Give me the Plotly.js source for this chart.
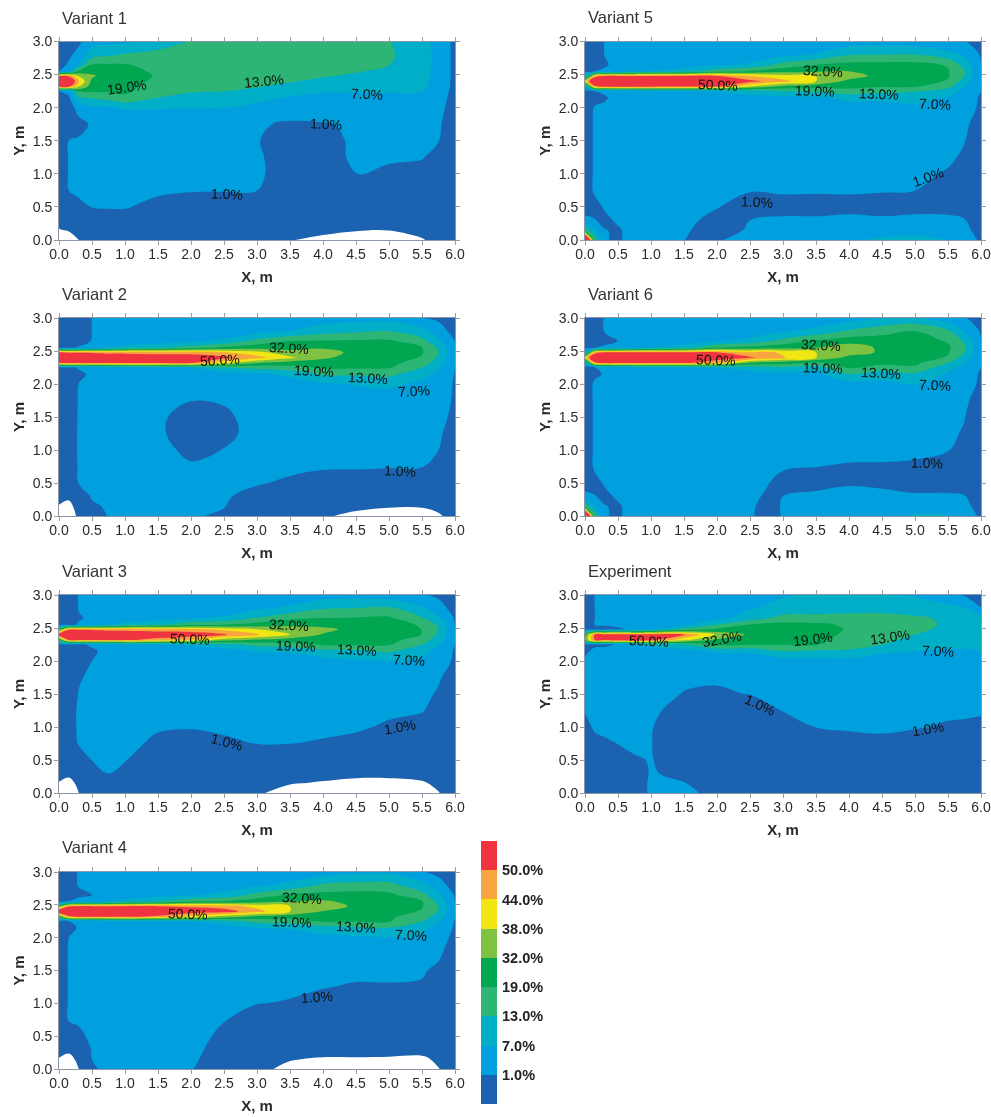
<!DOCTYPE html>
<html>
<head>
<meta charset="utf-8">
<script src="https://cdn.plot.ly/plotly-3.0.1.min.js"></script>
<style>html,body{margin:0;padding:0;background:#fff}#plot{width:991px;height:1117px;filter:blur(.45px)}</style>
</head>
<body>
<div id="plot"></div>
<script>
// Station positions (m). Each panel lists one column of values per x station, bottom to top along yNodes.
const xNodes = [0,.15,.3,.5,.75,1,1.5,2,2.5,3,3.5,4,4.5,5,5.5,5.75,6];
const xNodesV6 = [0,.15,.3,.5,.75,1,1.5,2,2.5,2.75,3,3.5,4,4.5,5,5.5,5.75,6];
const yNodes = [0,.15,.3,.5,.75,1,1.25,1.5,1.75,2,2.15,2.25,2.32,2.4,2.48,2.55,2.65,2.8,3];

const variant1 = [
[-.5,-.03,.2,.4,.6,.8,.8,.8,.7,.7,.8,.95,52,62,49,.95,.6,.4,.3],
[-.3,.05,.3,.7,1.05,1.1,1.1,1.05,.7,.7,.9,2.5,52,60,49,7,2,.8,.4],
[0,.3,.6,.9,1.5,1.7,1.6,1.4,.8,2.5,12,21,38,44,37,22,8,3,.8],
[.3,.5,.8,1.05,1.8,2,2,1.9,1.5,6,13.5,21,26,29,33,27,19.5,10,5],
[.4,.6,.8,1.2,2,2.2,2.2,2,2,6.5,15,21,24,25,25,24,20,12,5.5],
[.4,.6,.8,1.2,2,2.2,2.2,2,2,7.5,18,21,22,23,24,23,20,13.5,6],
[.4,.5,.7,.85,1.5,2,2,2,2,7.5,13,16,17,18,18.5,18,17,16,8],
[.4,.5,.6,.8,1.15,2,2,2,2,7,11,13.5,15,16,16,16,16,16,13.5],
[.3,.4,.6,.8,1.1,2,2,2,2.2,7,10,13,14,15,15,15,15,15,14],
[.15,.25,.5,.7,1.03,1.6,1.5,1.2,1.5,5.5,8.5,11,13.5,15,15,15,15,15,14.5],
[.02,.15,.3,.5,.7,.7,.7,.7,.9,3.5,6.5,9,11,13.5,15,15,15,15,14.5],
[-.1,.1,.3,.5,.6,.7,.8,.8,.95,3.5,5.5,7.5,9.5,11.5,13.5,15,15,15,14.5],
[-.4,.05,.3,.5,.8,1.05,1.5,1.6,1.6,3.5,5.5,7.5,9,10.5,12,13.5,15,15,14.5],
[-.5,.02,.3,.5,.7,.95,1.2,1.6,2,4,5.5,7.5,8.5,9.5,10.5,11.5,13.2,14,13.2],
[-.05,.2,.3,.5,.7,.9,1.1,1.8,2.2,4,6,7.2,7.8,8,8,8,8.5,8.5,8],
[.2,.3,.4,.5,.6,.7,.9,1.05,1.4,2.2,3,4,5,5.5,6,6,6,6,6],
[.3,.3,.4,.4,.5,.6,.7,.7,.7,.7,.7,.7,.7,.7,.7,.7,.7,.7,.7]
];
const variant2 = [
[-.5,-.03,.2,.4,.4,.4,.4,.4,.4,.5,.6,.8,51,62,50,.8,.5,.4,.3],
[-.5,-.2,.15,.4,.5,.5,.5,.5,.6,.7,.8,.9,51,62,49,.9,.6,.4,.3],
[.2,.3,.5,1.2,1.5,1.6,1.6,1.5,1.3,1.05,.9,1.3,51,60,49,1.5,.7,.5,.4],
[.5,.9,1.4,1.6,1.8,2,2,2,1.8,1.6,1.5,2,51,58,49,3,1.2,1.1,1.1],
[1.3,1.5,1.7,2,2,2,2,2,2,2,2.5,4,51,56,48,7,2,1.5,1.3],
[1.5,1.6,1.8,2,2,2,2,1.8,2,2,2.5,5,51,56,48,9,3,2,1.5],
[1.5,1.6,1.8,1.8,1.6,1.8,2,1.8,1.8,2,2.5,6,51,55,47,12,4,2,1.5],
[1.4,1.4,1.5,1.5,1.3,.9,.5,.7,1.1,2,3,7,50.5,55,47,16,6,2.5,2],
[.9,1.2,1.4,1.5,1.3,1.1,.75,.9,1.3,2,3.5,13,40,52,44,22,8,3,2],
[.3,.5,.8,1.3,1.8,2,3,2.2,2.5,3.5,6,15,32,46,40,27,15,5,3],
[.2,.3,.5,.9,1.8,2,2.2,2.5,3,5,8,17,26,39,34,28,19,7,3.5],
[.1,.2,.4,.7,1.5,2,2.2,2.6,3.2,6,14,21,26,33,35,30,20,10.5,4],
[-.2,.2,.4,.7,1.4,2,2.3,2.7,3.5,7.5,14,21,24,27,28,26,21,12,4.5],
[-.5,.1,.3,.6,1.3,1.9,2.2,2.7,4,8,15,20,23,26,26,24,21,13,5],
[-.5,.1,.3,.7,1.1,1.6,2,2.6,3.5,6,8.5,13,16,18.5,20,19.5,15,9,1.2],
[-.1,.2,.4,.6,.8,1,1.6,2.5,3,4.5,6,7.5,10,12,13,12,8,4,.8],
[.3,.3,.4,.4,.5,.6,.7,.8,.9,.9,.95,1.1,1.2,1.3,1.3,1.2,1.1,.6,.4]
];
const variant3 = [
[-.5,-.03,.2,.4,.4,.4,.5,.5,.5,.5,.5,.8,20,55,20,.8,.5,.4,.3],
[-.5,-.2,.15,.4,.6,.8,.8,.7,.6,.6,.6,.9,50,60,49,.9,.6,.5,.4],
[0,.15,.3,.5,1.4,1.4,1.4,1.15,.95,.7,.7,.95,51,60,49,1.3,.95,1.2,1.4],
[.2,.4,.7,1.1,1.8,2,2,2,1.6,1,.95,1.3,51,58,49,3,1.6,1.6,1.6],
[.3,.6,1.05,1.7,2,2,2,2,2,1.5,1.6,3,51,56,48,6,2,1.8,1.6],
[.3,.5,.7,1.2,1.8,2,2,2,2,2,2.5,5,51,55,48,9,3,2,1.6],
[.3,.4,.5,.6,.9,1.3,2,2,2,2.2,3,6,48,54,47,12,4,2,1.6],
[.2,.4,.5,.6,.8,1.2,2,2,2,2.5,3.5,7.5,44,54,46,17,6,2.5,1.8],
[.1,.3,.5,.6,.95,1.3,1.8,2,2.2,3,4.5,11,34,51,42,19,8,3,2],
[.1,.25,.4,.7,1.05,1.5,1.8,2,2.4,3.5,7.5,15,30,45,38,24,13.5,6,3],
[-.3,.05,.3,.6,1.03,1.5,1.8,2,2.5,4,7.5,17,26,38,36,28,18,8,3.5],
[-.5,-.05,.2,.5,.97,1.4,1.8,2.1,2.6,5,11,21,26,31,34,27,19,12.5,4],
[-.5,-.1,.1,.4,.9,1.3,1.7,2.2,3,6,12,21,24,27,27,25,20,13,5],
[-.5,-.1,.1,.3,.6,.95,1.4,2,3,7,14,20,23,26,25,23,21,14,3.5],
[-.5,-.05,.15,.3,.5,.8,1.2,1.7,2.6,6,9,13,16,18.9,18.9,18.5,13.5,8,1.5],
[-.02,.1,.2,.3,.5,.6,.8,.95,1.3,3,5,7.5,10,12,13,12,8,4,.8],
[.3,.3,.3,.3,.4,.5,.6,.7,.8,.9,.9,1,1,1.05,1.05,.95,.9,.5,.3]
];
const variant4 = [
[-.5,-.03,.2,.4,.6,.6,.6,.6,.6,.5,.6,.8,22,60,28,.9,.6,.4,.3],
[-.5,-.2,.15,.5,1.3,1.3,1.3,1.3,1.3,1,.9,1,48,62,49,1.05,.95,.8,.7],
[0,.15,.6,.9,1.4,1.5,1.5,1.4,1.4,1.4,1.2,1.1,51,60,50,2,.9,1.2,1.3],
[.95,1.05,1.2,1.6,2,2,2,2,2,2,2,2,51,58,50,3,1,1.6,1.6],
[1.5,1.7,2,2,2,2,2,2,2,2,2.5,4,51,57,50,6,2,1.8,1.6],
[1.6,1.8,2,2,2,2,2,2,2,2,2.5,5,51,56,50,9,3,2,1.6],
[1.6,1.8,2,2,2,2,2,2,2,2.2,3,6,49,55,50,13,4.5,2.2,1.8],
[1.2,1.6,1.8,2,2,2,2,2,2,2.5,3.5,7,42,54,49,18,6.5,2.6,2],
[.6,.7,.8,.9,1.1,1.6,2,2,2.2,3,4.5,10,35,53,47,20,9,3,2.2],
[.2,.3,.4,.6,.85,1.05,1.6,2,2.4,3.5,7,15,28,46,42,27,15,6,3],
[-.2,.05,.3,.5,.7,.98,1.3,2,2.5,4,7.5,16,24,38,38,32,21,8.5,3.5],
[-.5,-.1,.4,.4,.6,.8,1.15,1.8,2.8,5,10.5,21,26,31,36,33,23,14,4],
[-.5,-.1,.4,.5,.5,.7,.95,1.7,2.8,6,12,20,23,27,29,28,24,15,5.5],
[-.5,-.1,.3,.5,.5,.7,.97,1.5,2.6,6.5,13,20,21,25,27,25,22,15,6],
[-.5,-.1,.2,.3,.5,.7,.95,1.3,2.2,6,9,13,16,18.5,20,20,15,9,1.5],
[-.02,.1,.2,.3,.4,.5,.7,.9,1.5,3,4.5,7,10,12.5,13,11,8,4,.7],
[.3,.3,.3,.3,.4,.4,.5,.6,.7,.8,.9,.95,1.05,1.1,1.1,1,.9,.5,.3]
];
const variant5 = [
[85,16,1.7,.8,.7,.7,.7,.7,.7,.7,.6,.9,5,40,5,.9,.6,.5,.4],
[16,7,1.1,.85,1.5,1.5,1.5,1.5,1.5,1.3,.8,1,48,62,46,1,.8,.7,.6],
[1.15,1.1,.9,1.3,1.7,1.7,1.7,1.7,1.6,1.5,.95,1.5,52,60,50,1.5,.95,1.1,1.2],
[.95,.95,1.4,1.8,2,2,2,2,2,2,2,2.5,52,58,50,3,1.7,1.7,1.7],
[2,2,2,2,2,2,2,2,2,2,2.5,4,52,57,50,5,2,1.8,1.7],
[2,2,2,2,2,2,2,2,2,2,2.5,5,52,56,50,7,3,2,1.7],
[1.03,1.5,2,2,2,2,2,2,2,2.2,3,6,51,55,50,10,4,2.2,1.8],
[.85,.7,.8,1.2,2,2,2,2,2,2.5,3.5,7,50.5,54,50,16,6,2.5,2],
[5,1.5,1,.75,1.2,2,2,2,2.2,3,4.5,10,38,52,44,20,8,3,2],
[3,2.5,1.5,.8,1.4,2,2,2,2.4,3.5,5,13,28,46,40,27,15,5.5,2.6],
[4,3,1.5,.8,1.3,2,2,2.2,2.6,4,6,14,24,38,38,30,19,7.5,3],
[6,3,1.5,.9,1.2,2,2,2.2,2.8,4.5,8.5,17,22,28,35,32,23,12.5,4],
[8.5,3,1.4,.85,1.15,1.7,2,2.2,2.8,5,8,15,20,24,27,27,23,13,4.5],
[10,3,1.5,.9,1,1.7,2,2.3,3,6,8.5,13.5,20,24,26,26,23,13,4],
[7.5,2.5,1.4,.9,.85,.95,1.5,2,2.5,4.5,6.5,10,15,18.5,20,20,18.5,9,2],
[3,1.8,1.1,.9,.8,.85,.93,1.1,1.5,2.5,3.5,5,7,10,13,13,10.5,6,1.3],
[.9,.8,.7,.6,.6,.6,.7,.7,.8,.9,.9,1,1.05,1.1,1.1,1.1,1,.9,.7]
];
const variant6 = [
[85,16,1.7,.8,.7,.7,.7,.7,.7,.7,.6,.9,5,40,5,.9,.6,.5,.4],
[16,7,1.1,.85,1.5,1.5,1.5,1.5,1.5,1.5,.9,1,48,62,46,1,.8,.7,.6],
[1.15,1.1,.9,1.3,1.8,1.8,1.8,1.7,1.6,1.5,1.3,1.5,52,60,50,1.5,.85,1.2,1.3],
[.95,.95,1.4,1.8,2,2,2,2,2,2,2,2.5,52,58,50,3,1.05,1.7,1.7],
[2,2,2,2,2,2,2,2,2,2,2.5,4,52,57,50,5,2,1.8,1.7],
[2,2,2,2,2,2,2,2,2,2,2.5,5,52,56,50,7,3,2,1.7],
[2,2,2,2,2,2,2,2,2,2.2,3,6,51,55,50,10,4,2.2,1.8],
[2,2,2,2,2,2,2,2,2,2.5,3.5,7,46,54,50,19,6.5,2.6,2],
[1.4,1.5,1.6,1.8,1.8,2,2,2,2.2,3,4.5,10,30,51,44,24,9,3,2.2],
[.8,.85,.95,1.2,1.7,2,2,2,2.3,3.3,5,11,26,48,46,26,12,4.5,2.5],
[1.2,1.2,1,.85,1.3,2,2,2,2.4,3.5,5.5,12,24,45,42,28,15,6,2.8],
[1.8,1.7,1.4,.9,1.03,2,2,2.2,2.6,4,5.5,10,18,38,38,32,21,9,3.2],
[2,1.8,1.4,.98,.95,2,2,2.2,2.8,4.5,13,21,23,28,35,36,26,14,4],
[3,2,1.4,.95,.97,1.5,2,2.3,3,5.5,9.5,17,22,26,30,29,25,17,7],
[8,3,1.3,.85,.95,1.4,2,2.4,3.2,7,12,18,22,25,28,29,25,19,8],
[7.5,2.5,1.3,.85,.85,1.1,1.6,2,2.5,4.5,6.5,9,13,18.5,20,21,18.5,14,3],
[3,1.8,1.1,.85,.75,.85,.95,1.1,1.5,2.5,3.5,5,7,10,13,14,12,6.5,1.3],
[.9,.8,.7,.6,.6,.6,.7,.7,.8,.9,.9,1,1.05,1.1,1.1,1.1,1,.9,.7]
];
const experiment = [
[.4,.4,.5,.6,.75,.9,1.1,1.3,1.5,1.5,.9,.95,30,25,.95,.7,.6,.5,.4],
[.5,.5,.6,.7,.9,1.3,1.8,2,2,2,1.7,.9,51,51,.9,1.05,1,1.1,1.2],
[.5,.5,.6,.7,.95,1.5,2,2,2,2,2,.9,52,52,.9,1.2,1.5,1.5,1.5],
[.5,.5,.6,.7,1.05,1.6,2,2,2,2,2,1.3,55,54,.95,1.4,2,2,2],
[.5,.6,.7,.95,1.6,1.8,2,2,2,2,2,4,56,52,1.5,2,2,2,2],
[1.8,1.7,1.3,1.15,1.1,1.2,1.6,2,2,2,4,9,52,53,5,2.5,2,2,2],
[1.5,1.1,.85,.7,.6,.6,.8,.98,1.5,2,4.5,12,40,50.5,15,6,2.5,2,2],
[.9,.8,.7,.6,.5,.5,.6,.95,1.3,2,8,22,30,37,21,13,5,2,2],
[.5,.5,.5,.5,.5,.5,.6,1.08,1.6,2.5,8,21,25,30,26,19.5,10,6.5,2.5],
[.4,.4,.4,.4,.5,.8,1.1,1.6,2,4,13,20,23,26,24,23,15,9,6.5],
[.4,.4,.4,.4,.6,1.05,1.5,1.8,2.2,4.5,12,20,22,23,24,22,15,10,8],
[.4,.4,.4,.5,.85,1.3,1.7,2,2.5,5,12,16,17,18,18.5,18,15,11,8],
[.4,.4,.4,.5,.9,1.4,1.8,2,2.5,4.5,8,13,15,16,16,16,15,11,7.5],
[.4,.4,.4,.5,.8,1.2,1.7,2,2.5,4,7,9,11,13,15,15,14,10,6.5],
[.4,.4,.4,.5,.7,.95,1.5,2,2.5,3.5,6.5,8,9,10,11,12,12,8.5,3],
[.4,.4,.4,.5,.7,.92,1.5,2,2.5,3.5,6.5,8,8.5,9,9.5,10,10,7.5,.9],
[.4,.4,.4,.5,.7,.9,1.3,2,2.5,3.5,7,8,8.5,9,9.5,9.5,8.5,1.2,.5]
];

const levelValues = [0,1,7,13,19,32,38,44,50];
const legendLabels = ["1.0%","7.0%","13.0%","19.0%","32.0%","38.0%","44.0%","50.0%"];
const bandColors = ["#1b62b0","#00a0de","#00aec8","#2cb574","#00a650","#7fc241","#efe614","#f9a53f","#ef3340"];

const panelNames = ["Variant 1","Variant 2","Variant 3","Variant 4","Variant 5","Variant 6","Experiment"];
const panelData = [variant1,variant2,variant3,variant4,variant5,variant6,experiment];
const panelX = [xNodes,xNodes,xNodes,xNodes,xNodes,xNodesV6,xNodes];

// [text, x, y, angle]
const labelsV1 = [["19.0%",1.03,2.31,-8],["13.0%",3.1,2.41,-5],["7.0%",4.66,2.2,3],["1.0%",4.05,1.75,3],["1.0%",2.54,.7,2]];
const labelsV2 = [["50.0%",2.44,2.37,-3],["32.0%",3.48,2.55,3],["19.0%",3.86,2.2,3],["13.0%",4.68,2.09,3],["7.0%",5.38,1.89,-3],["1.0%",5.16,.68,3]];
const labelsV3 = [["50.0%",1.98,2.34,2],["32.0%",3.48,2.54,3],["19.0%",3.59,2.23,2],["13.0%",4.52,2.17,3],["7.0%",5.31,2.02,3],["1.0%",2.54,.78,15],["1.0%",5.16,1,-10]];
const labelsV4 = [["50.0%",1.95,2.36,2],["32.0%",3.68,2.6,3],["19.0%",3.53,2.24,2],["13.0%",4.5,2.17,3],["7.0%",5.33,2.04,3],["1.0%",3.91,1.09,-4]];
const labelsV5 = [["50.0%",2.02,2.34,3],["32.0%",3.6,2.55,3],["19.0%",3.48,2.25,2],["13.0%",4.45,2.2,2],["7.0%",5.3,2.06,3],["1.0%",2.6,.57,3],["1.0%",5.2,.95,-20]];
const labelsV6 = [["50.0%",1.98,2.36,2],["32.0%",3.57,2.59,3],["19.0%",3.6,2.25,2],["13.0%",4.48,2.17,3],["7.0%",5.3,1.99,3],["1.0%",5.18,.81,2]];
const labelsExp = [["50.0%",.97,2.3,3],["32.0%",2.07,2.34,-10],["19.0%",3.45,2.34,-7],["13.0%",4.62,2.37,-8],["7.0%",5.35,2.15,3],["1.0%",2.65,1.33,25],["1.0%",5.19,.97,-10]];
const panelLabels = [labelsV1,labelsV2,labelsV3,labelsV4,labelsV5,labelsV6,labelsExp];

// Layout, in pixels
const W = 991, H = 1117;
const frames = [[59,455,41.5,240],[59,455,318,516],[59,455,595,793],[59,455,872,1069],
                [585,981,41.5,240],[585,981,318,516],[585,981,595,793]];
const titleY = [18,294,571,847,17,294,571];
const FONT = '"Liberation Sans", Arial, sans-serif';
const INK = '#2a2a2a';

// Bands are not evenly spaced in percent, so the values go through level space.
function toLevel(v){
  if(v <= 0) return v;
  for(let i=0;i<levelValues.length-1;i++){
    if(v < levelValues[i+1]) return i + (v-levelValues[i])/(levelValues[i+1]-levelValues[i]);
  }
  return 8 + (v-50)/6;
}
const contourScale = ["#ffffff"].concat(bandColors).map((c,i)=>[i/9,c]);
const legendScale = bandColors.map((c,i)=>[i/8,c]);

const data = [], layout = {
  width:W, height:H, margin:{l:0,r:0,t:0,b:0}, paper_bgcolor:'#fff', plot_bgcolor:'#fff',
  showlegend:false, font:{family:FONT,size:14,color:INK}, annotations:[]
};

panelData.forEach((cols,p)=>{
  const n = p+1, xa = 'x'+n, ya = 'y'+n, xk = 'xaxis'+n, yk = 'yaxis'+n;
  const [l,r,t,b] = frames[p];
  data.push({
    type:'contour', x:panelX[p], y:yNodes, z:cols.map(c=>c.map(toLevel)), transpose:true,
    xaxis:xa, yaxis:ya, autocontour:false, showscale:false, hoverinfo:'skip',
    colorscale:contourScale, contours:{start:0,end:8,size:1,coloring:'fill',showlines:false},
    line:{width:0,smoothing:1.1}
  });
  const common = {
    showgrid:false, zeroline:false, showline:true, linecolor:'#8b97a6', linewidth:1, mirror:'ticks',
    ticks:'outside', ticklen:4, tickwidth:1, tickcolor:'#9c9c9c', tick0:0, dtick:.5, tickformat:'.1f',
    tickfont:{family:FONT,size:14,color:INK}
  };
  layout[xk] = Object.assign({},common,{
    domain:[l/W,r/W], range:[0,6], anchor:ya, ticklabelstandoff:-3, tickangle:0,
    title:{text:'<b>X, m</b>', standoff:10, font:{family:FONT,size:15,color:INK}}
  });
  layout[yk] = Object.assign({},common,{
    domain:[1-b/H,1-t/H], range:[0,3], anchor:xa, ticklabelstandoff:-1,
    title:{text:'<b>Y, m</b>', standoff:4, font:{family:FONT,size:15,color:INK}}
  });
  layout.annotations.push({
    text:panelNames[p], xref:'paper', yref:'paper', x:(l+1)/W, y:1-titleY[p]/H,
    xanchor:'left', yanchor:'middle', showarrow:false, font:{family:FONT,size:16.5,color:'#333'}
  });
  panelLabels[p].forEach(a=>layout.annotations.push({
    text:a[0], xref:xa, yref:ya, x:a[1], y:a[2], textangle:a[3], showarrow:false,
    font:{family:FONT,size:14,color:'#111'}
  }));
});

// Separate colour key
data.push({
  type:'heatmap', x:[0], y:bandColors.map((c,i)=>i), z:bandColors.map((c,i)=>[i]),
  xaxis:'x8', yaxis:'y8', zmin:0, zmax:8, colorscale:legendScale, showscale:false, hoverinfo:'skip'
});
layout.xaxis8 = {domain:[481/W,497/W], range:[-.5,.5], anchor:'y8', visible:false};
layout.yaxis8 = {
  domain:[1-1104/H,1-841/H], range:[-.5,8.5], anchor:'x8', side:'right', showgrid:false, zeroline:false,
  showline:false, ticks:'', tickmode:'array', tickvals:legendLabels.map((s,i)=>i+.5), ticktext:legendLabels,
  ticklabelstandoff:4, tickfont:{family:FONT,size:14.5,color:'#222',weight:700}
};

Plotly.newPlot('plot',data,layout,{staticPlot:true,displayModeBar:false});
</script>
</body>
</html>
